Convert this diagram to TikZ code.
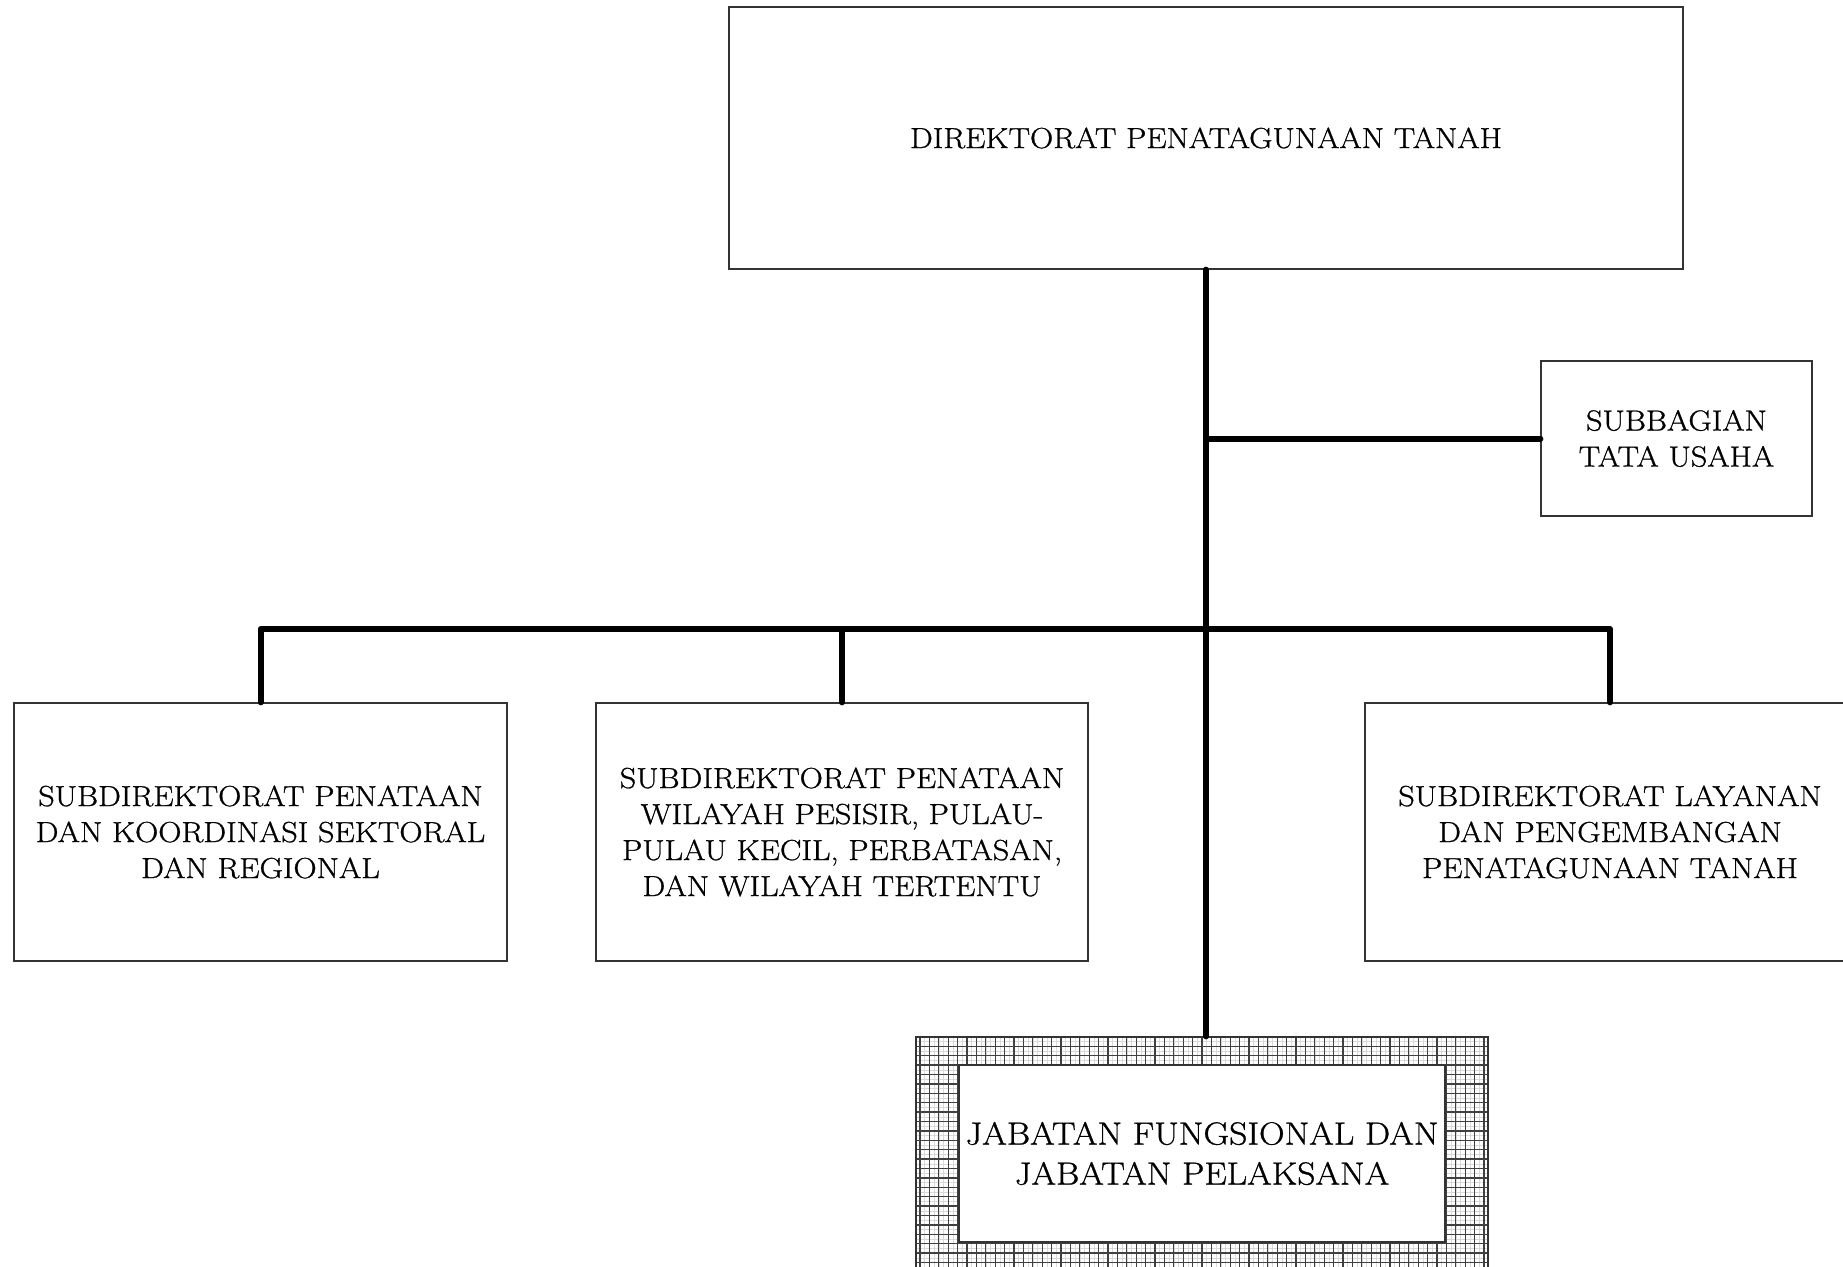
\documentclass[tikz,border=0pt]{standalone}
\usepackage{fontspec}
\setmainfont{Latin Modern Roman}[FakeStretch=1.11, FakeBold=0.9]
\begin{document}
\begin{tikzpicture}[x=1pt,y=-1pt,
  unit/.style={draw=black!80, line width=1.3pt, fill=white, align=center,
    inner sep=0pt, font=\fontsize{29}{36}\selectfont},
  link/.style={line width=6pt, line cap=round, line join=round},
  hatchbox/.style={draw=black!80, line width=1.3pt,
    path picture={
      \draw[gray!30, line width=0.6pt, step=4.7pt]
        (path picture bounding box.south west) grid (path picture bounding box.north east);
      \draw[black!75, line width=1.3pt, step=9.4pt]
        (path picture bounding box.south west) grid (path picture bounding box.north east);
    }}]
\useasboundingbox (0,0) rectangle (1843,1266);

% director
\node[unit, minimum width=954pt, minimum height=262pt] (dir) at (1206,138)
  {DIREKTORAT PENATAGUNAAN TANAH};

% administrative subsection
\node[unit, minimum width=271pt, minimum height=155pt] (sub) at (1676.5,438.5)
  {SUBBAGIAN\\TATA USAHA};

% sub-directorates
\node[unit, minimum width=493pt, minimum height=258pt] (b1) at (260.5,832)
  {SUBDIREKTORAT PENATAAN\\DAN KOORDINASI SEKTORAL\\DAN REGIONAL};
\node[unit, minimum width=492pt, minimum height=258pt] (b2) at (842,832)
  {SUBDIREKTORAT PENATAAN\\WILAYAH PESISIR, PULAU-\\PULAU KECIL, PERBATASAN,\\DAN WILAYAH TERTENTU};
\node[unit, minimum width=490pt, minimum height=258pt] (b3) at (1610,832)
  {SUBDIREKTORAT LAYANAN\\DAN PENGEMBANGAN\\PENATAGUNAAN TANAH};

% functional positions: hatched frame with a white panel
\node[hatchbox, minimum width=572pt, minimum height=263pt] (jab) at (1202,1168.5) {};
\node[unit, minimum width=486pt, minimum height=177pt, font=\fontsize{32}{40}\selectfont]
  (jabin) at (1202,1153.5) {JABATAN FUNGSIONAL DAN\\JABATAN PELAKSANA};

% connectors
\coordinate (bus) at (1206,629);
\draw[link] (dir.south) -- (dir.south |- jab.north);
\draw[link] (dir.south |- sub.west) -- (sub.west);
\draw[link] (b1.north) -- (b1.north |- bus) -- (b3.north |- bus) -- (b3.north);
\draw[link] (b2.north) -- (b2.north |- bus);
\end{tikzpicture}
\end{document}
